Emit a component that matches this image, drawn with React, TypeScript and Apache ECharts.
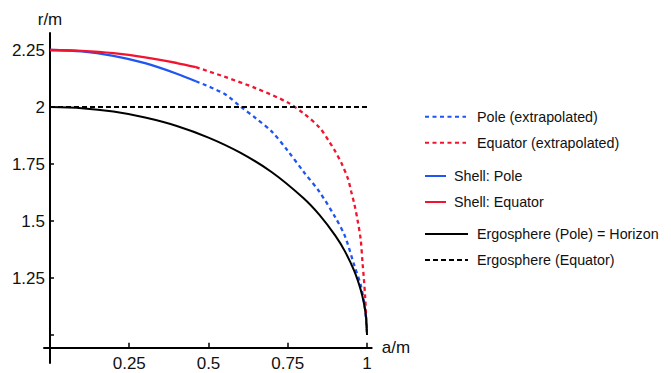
import React, { useEffect, useRef } from "react";
import * as echarts from "echarts";

// Horizon = ergosphere at the pole
const A_HORIZON = [0, 0.1, 0.2, 0.3, 0.4, 0.5, 0.6, 0.7, 0.8, 0.85, 0.9, 0.93, 0.96, 0.98, 0.99, 0.997, 1];
const R_HORIZON = [2.0, 1.995, 1.98, 1.954, 1.917, 1.866, 1.8, 1.714, 1.6, 1.527, 1.436, 1.368, 1.28, 1.199, 1.141, 1.077, 1.0];

// Ergosphere at the equator
const A_ERGO_EQ = [0, 1];
const R_ERGO_EQ = [2, 2];

// Shell (computed part)
const A_SHELL = [0, 0.1, 0.2, 0.3, 0.4, 0.46];
const R_SHELL_POLE = [2.25, 2.244, 2.224, 2.192, 2.146, 2.113];
const R_SHELL_EQ = [2.25, 2.246, 2.236, 2.218, 2.193, 2.175];

// Extrapolated parts
const A_POLE_EXT = [0.46, 0.55, 0.6, 0.65, 0.7, 0.75, 0.8, 0.85, 0.9, 0.93, 0.96, 0.98, 0.99, 0.995, 1];
const R_POLE_EXT = [2.113, 2.058, 2.003, 1.95, 1.892, 1.808, 1.716, 1.628, 1.516, 1.435, 1.305, 1.22, 1.15, 1.1, 1.0];

const A_EQ_EXT = [0.46, 0.55, 0.65, 0.75, 0.8, 0.85, 0.88, 0.9, 0.92, 0.94, 0.95, 0.96, 0.97, 0.98, 0.986, 0.99, 0.994, 0.999];
const R_EQ_EXT = [2.175, 2.133, 2.082, 2.02, 1.972, 1.91, 1.85, 1.805, 1.752, 1.685, 1.63, 1.575, 1.505, 1.42, 1.314, 1.25, 1.17, 1.03];

// Ticks
const X_TICKS = [0, 0.25, 0.5, 0.75, 1];
const X_LABELS = [0.25, 0.5, 0.75, 1];
const Y_TICKS = [1, 1.25, 1.5, 1.75, 2, 2.25];
const Y_LABELS = [1.25, 1.5, 1.75, 2, 2.25];

const zip = (a: number[], r: number[]) => a.map((v, i) => [v, r[i]]);

const BLUE = "#1f55f2";
const RED = "#f2142e";
const BLACK = "#000000";
const FONT = "'Liberation Sans', Arial, sans-serif";

export default function App() {
  const ref = useRef<HTMLDivElement>(null);

  useEffect(() => {
    if (!ref.current) return;
    const chart = echarts.init(ref.current, undefined, { renderer: "svg" });
    const fmt = (v: any) => String(+Number(v).toFixed(2));
    const legendCommon = {
      left: 424,
      padding: 0,
      orient: "vertical" as const,
      itemHeight: 14,
      itemGap: 12,
      selectedMode: false,
      itemStyle: { opacity: 0 },
      textStyle: { fontSize: 14.3, color: "#111", fontFamily: FONT },
    };
    chart.setOption({
      animation: false,
      backgroundColor: "#ffffff",
      grid: { left: 44, top: 33, right: 299.3, bottom: 10, containLabel: false },
      xAxis: {
        type: "value",
        min: -0.0189,
        max: 1.0148,
        offset: -15.3,
        name: "a/m",
        nameLocation: "end",
        nameGap: 10,
        nameTextStyle: { fontSize: 17, color: "#111", fontFamily: FONT, verticalAlign: "middle" },
        axisLine: { show: true, onZero: false, lineStyle: { color: BLACK, width: 2 } },
        axisTick: { show: true, inside: true, length: 5, customValues: X_TICKS, lineStyle: { color: BLACK, width: 1.5 } },
        axisLabel: { show: true, customValues: X_LABELS, margin: 7, fontSize: 17, color: "#111", fontFamily: FONT, formatter: fmt },
        splitLine: { show: false },
      },
      yAxis: {
        type: "value",
        min: 0.8772,
        max: 2.3246,
        name: "r/m",
        nameLocation: "end",
        nameGap: 5,
        nameTextStyle: { fontSize: 17, color: "#111", fontFamily: FONT },
        axisLine: { show: true, onZero: true, lineStyle: { color: BLACK, width: 2 } },
        axisTick: { show: true, inside: true, length: 4, customValues: Y_TICKS, lineStyle: { color: BLACK, width: 1.5 } },
        axisLabel: { show: true, customValues: Y_LABELS, margin: -1, fontSize: 17, color: "#111", fontFamily: FONT, formatter: fmt },
        splitLine: { show: false },
      },
      legend: [
        {
          ...legendCommon,
          top: 109.7,
          itemWidth: 41,
          textStyle: { ...legendCommon.textStyle, padding: [0, 0, 0, 6] },
          data: ["Pole (extrapolated)", "Equator (extrapolated)"],
        },
        {
          ...legendCommon,
          top: 169,
          itemWidth: 21,
          textStyle: { ...legendCommon.textStyle, padding: [0, 0, 0, 3] },
          data: ["Shell: Pole", "Shell: Equator"],
        },
        {
          ...legendCommon,
          top: 227,
          itemWidth: 43,
          textStyle: { ...legendCommon.textStyle, padding: [0, 0, 0, 4] },
          data: ["Ergosphere (Pole) = Horizon", "Ergosphere (Equator)"],
        },
      ],
      series: [
        {
          name: "Pole (extrapolated)",
          type: "line",
          data: zip(A_POLE_EXT, R_POLE_EXT),
          symbol: "none",
          smooth: 0.3,
          lineStyle: { color: BLUE, width: 2.3, type: [4, 3.5] },
          itemStyle: { color: BLUE },
        },
        {
          name: "Equator (extrapolated)",
          type: "line",
          data: zip(A_EQ_EXT, R_EQ_EXT),
          symbol: "none",
          smooth: 0.3,
          lineStyle: { color: RED, width: 2.3, type: [4, 3.5] },
          itemStyle: { color: RED },
        },
        {
          name: "Shell: Pole",
          type: "line",
          data: zip(A_SHELL, R_SHELL_POLE),
          symbol: "none",
          smooth: 0.3,
          lineStyle: { color: BLUE, width: 2.3 },
          itemStyle: { color: BLUE },
        },
        {
          name: "Shell: Equator",
          type: "line",
          data: zip(A_SHELL, R_SHELL_EQ),
          symbol: "none",
          smooth: 0.3,
          lineStyle: { color: RED, width: 2.3 },
          itemStyle: { color: RED },
        },
        {
          name: "Ergosphere (Pole) = Horizon",
          type: "line",
          data: zip(A_HORIZON, R_HORIZON),
          symbol: "none",
          smooth: 0.3,
          lineStyle: { color: BLACK, width: 2 },
          itemStyle: { color: BLACK },
        },
        {
          name: "Ergosphere (Equator)",
          type: "line",
          data: zip(A_ERGO_EQ, R_ERGO_EQ),
          symbol: "none",
          lineStyle: { color: BLACK, width: 2, type: [5, 3] },
          itemStyle: { color: BLACK },
        },
      ],
    });
    return () => chart.dispose();
  }, []);

  return (
    <div
      ref={ref}
      style={{ position: "fixed", left: 0, top: 0, width: 671, height: 373, background: "#fff" }}
    />
  );
}
